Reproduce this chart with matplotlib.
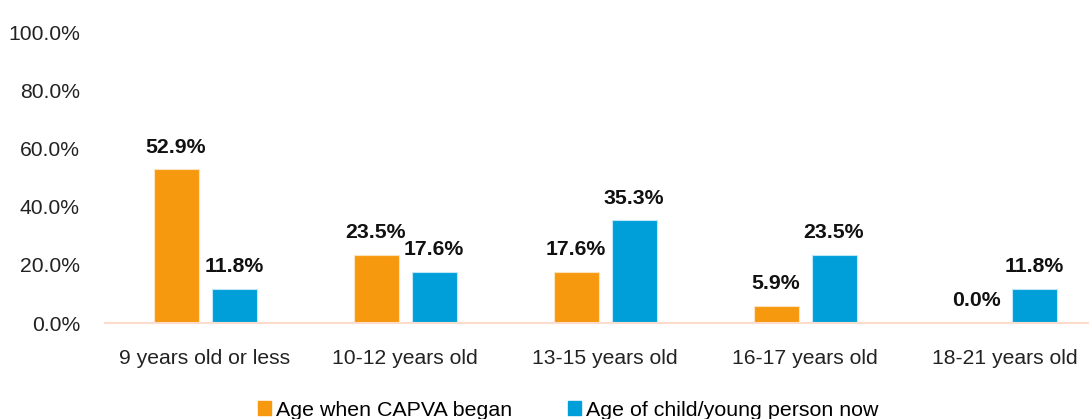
import matplotlib
matplotlib.use("Agg")
import matplotlib.pyplot as plt
import numpy as np
from matplotlib.patches import Patch

categories = ["9 years old or less", "10-12 years old", "13-15 years old", "16-17 years old", "18-21 years old"]
series_names = ["Age when CAPVA began", "Age of child/young person now"]
began = [52.9, 23.5, 17.6, 5.9, 0.0]
now = [11.8, 17.6, 35.3, 23.5, 11.8]
yticks = [0, 20, 40, 60, 80, 100]

orange = "#F7990F"
blue = "#009FDA"

plt.rcParams['font.family'] = ['Liberation Sans', 'DejaVu Sans']

fig = plt.figure(figsize=(10.89, 4.19), dpi=100)
ax = fig.add_axes([105/1089, 96/419, 1000/1089, 291/419])

x = np.arange(len(categories))
w = 0.225
off = 0.145
ax.bar(x - off, began, w, color=orange, edgecolor="#FCE3C0", linewidth=0.8)
ax.bar(x + off, now, w, color=blue, edgecolor="#BDE6F6", linewidth=0.8)

for xs, vals in ((x - off, began), (x + off, now)):
    for xi, v in zip(xs, vals):
        ax.text(xi, v + 4.3, f"{v:.1f}%", ha="center", va="bottom",
                fontsize=15.3, fontweight="bold", color="#111111")

ax.set_xlim(-0.5, len(categories) - 0.5)
ax.set_ylim(0, 100)
ax.set_yticks(yticks)
ax.set_yticklabels([f"{t:.1f}%" for t in yticks])
ax.set_xticks(x)
ax.set_xticklabels(categories)
ax.tick_params(axis="both", length=0, labelsize=15.2, colors="#222222")
ax.tick_params(axis="y", pad=18)
ax.tick_params(axis="x", pad=19)
for s in ["top", "right", "left"]:
    ax.spines[s].set_visible(False)
ax.spines["bottom"].set_color("#FBDCCD")
ax.spines["bottom"].set_linewidth(1.5)

handles = [Patch(color=orange, label=series_names[0]), Patch(color=blue, label=series_names[1])]
fig.legend(handles=handles, loc="center", bbox_to_anchor=(568/1089, 1 - 410/419),
           ncol=2, frameon=False, fontsize=15.4, handlelength=0.6, handleheight=0.6,
           handletextpad=0.25, columnspacing=2.6)

fig.savefig("out.png", dpi=100)
